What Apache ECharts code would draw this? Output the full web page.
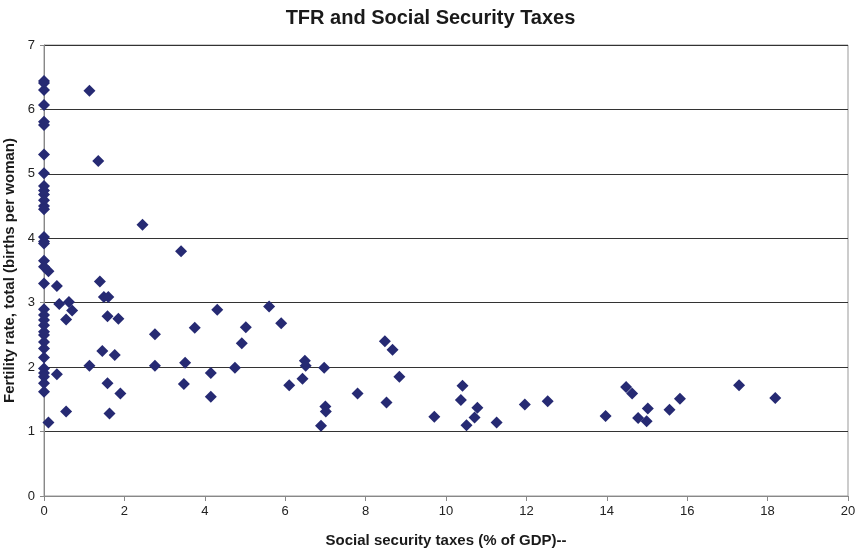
<!DOCTYPE html>
<html><head><meta charset="utf-8">
<script src="https://cdn.jsdelivr.net/npm/echarts@6/dist/echarts.min.js"></script>
<style>html,body{margin:0;padding:0;background:#fff}#c{width:861px;height:550px}</style>
</head><body><div id="c"></div>
<script>
var title = 'TFR and Social Security Taxes';
var xName = 'Social security taxes (% of GDP)--';
var yName = 'Fertility rate, total (births per woman)';
var xTicks = [0,2,4,6,8,10,12,14,16,18,20];
var yTicks = [0,1,2,3,4,5,6,7];
var taxes = [
 0,0,0,0,0,0,0,0,0,0,0,0,0,0,0,0,0,0,0,0,0,0,0,0,0,0,0,0,0,0,0,0,0,0,
 0.11,0.32,0.38,0.62,0.70,0.55,0.32,0.55,0.11,
 1.13,1.35,2.45,
 1.39,1.49,1.60,1.58,1.85,1.45,1.76,1.13,1.58,1.90,1.63,2.76,2.76,
 3.41,3.51,3.48,3.75,4.31,4.15,4.15,5.02,4.92,4.75,5.60,5.90,6.49,6.51,6.43,6.10,6.97,7.80,7.00,7.01,6.89,
 8.48,8.67,8.84,8.52,9.71,
 10.41,10.37,10.78,10.71,10.51,11.26,11.96,12.53,13.97,14.48,14.63,15.02,14.78,14.99,15.56,15.82,17.29,18.19
];
var tfr = [
 6.44,6.41,6.30,6.07,5.81,5.76,5.30,5.01,4.81,4.74,4.68,4.59,4.50,4.45,4.02,3.95,3.92,3.65,3.56,3.30,2.90,2.81,2.73,2.65,2.55,2.50,2.39,2.29,2.15,1.98,1.91,1.85,1.75,1.62,
 3.49,3.26,2.98,3.01,2.88,2.74,1.89,1.31,1.14,
 6.29,5.20,4.21,
 3.33,3.09,3.09,2.79,2.75,2.25,2.19,2.02,1.75,1.59,1.28,2.51,2.02,
 3.80,2.07,1.74,2.61,2.89,1.91,1.54,2.62,2.37,1.99,2.94,2.68,2.10,2.02,1.82,1.72,1.99,1.59,1.39,1.31,1.09,
 2.40,2.27,1.85,1.45,1.23,
 1.71,1.49,1.37,1.22,1.10,1.14,1.42,1.47,1.24,1.69,1.59,1.36,1.21,1.16,1.34,1.51,1.72,1.52
];
var pts = taxes.map(function(x,i){return [x, tfr[i]];});
var font = "'Liberation Sans Narrow','Arial Narrow',Arial,sans-serif";
var chart = echarts.init(document.getElementById('c'), null, {renderer:'canvas'});
chart.setOption({
  animation:false,
  title:{text:title,left:'center',top:3,textStyle:{fontFamily:'Arial,Liberation Sans,sans-serif',fontSize:20,fontWeight:'bold',color:'#1a1a1a'}},
  grid:{left:44,right:13,top:45,bottom:54,outerBoundsMode:'none',containLabel:false,show:true,borderColor:'#999',borderWidth:1},
  xAxis:{type:'value',min:xTicks[0],max:xTicks[xTicks.length-1],interval:2,
    name:xName,nameLocation:'middle',nameGap:37,
    nameTextStyle:{fontFamily:'Arial,Liberation Sans,sans-serif',fontSize:15,fontWeight:'bold',color:'#1a1a1a'},
    axisLine:{show:true,lineStyle:{color:'#888'}},
    axisTick:{show:true,length:5,lineStyle:{color:'#888'}},
    axisLabel:{fontFamily:font,fontSize:13,color:'#222',margin:9},
    splitLine:{show:false}},
  yAxis:{type:'value',min:yTicks[0],max:yTicks[yTicks.length-1],interval:1,
    name:yName,nameLocation:'middle',nameGap:19,
    nameTextStyle:{fontFamily:'Arial,Liberation Sans,sans-serif',fontSize:15,fontWeight:'bold',color:'#1a1a1a'},
    axisLine:{show:true,lineStyle:{color:'#888'}},
    axisTick:{show:true,length:4,lineStyle:{color:'#888'}},
    axisLabel:{fontFamily:font,fontSize:13,color:'#222',margin:9},
    splitLine:{show:true,lineStyle:{color:'#333',width:1}}},
  series:[{type:'scatter',data:pts,symbol:'diamond',symbolSize:12,
    itemStyle:{color:'#262A73',opacity:1}}]
});
</script></body></html>
